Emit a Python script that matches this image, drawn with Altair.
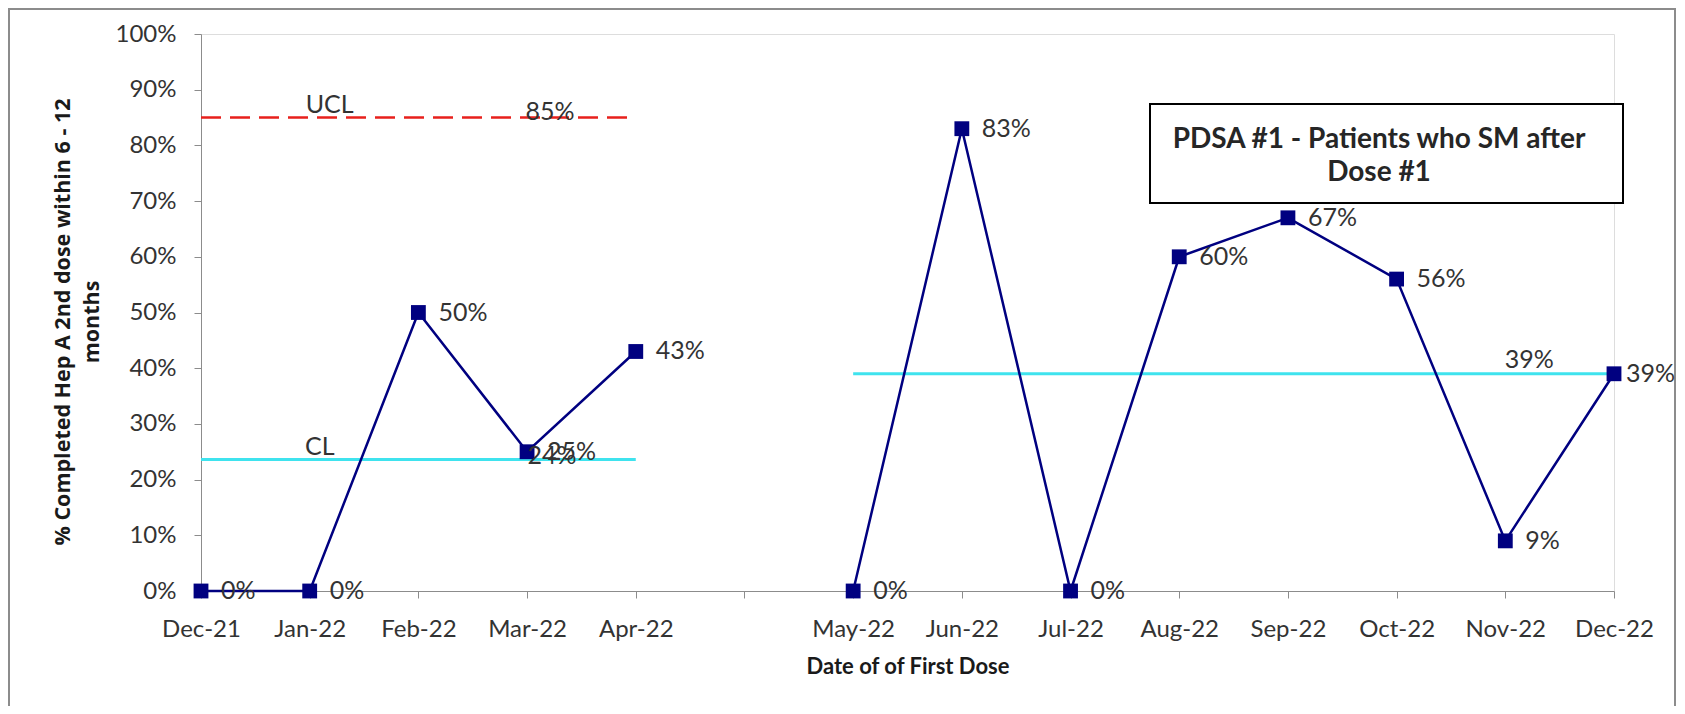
import altair as alt
import pandas as pd

# ---- data ----
months = ["Dec-21", "Jan-22", "Feb-22", "Mar-22", "Apr-22",
          "May-22", "Jun-22", "Jul-22", "Aug-22", "Sep-22", "Oct-22", "Nov-22", "Dec-22"]
values = [0.0, 0.0, 0.50, 0.25, 0.43,
          0.0, 0.83, 0.0, 0.60, 0.67, 0.56, 0.09, 0.39]
phase = [1, 1, 1, 1, 1, 2, 2, 2, 2, 2, 2, 2, 2]
x_domain = months[:5] + ["gap"] + months[5:]

# control limits per phase
lim_start = ["Dec-21", "May-22"]
lim_end = ["Apr-22", "Dec-22"]
cl_values = [0.236, 0.39]
ucl_start = ["Dec-21"]
ucl_end = ["Apr-22"]
ucl_values = [0.85]

box_lines = ["PDSA #1 - Patients who SM after", "Dose #1"]

df = pd.DataFrame({"month": months, "value": values, "phase": phase})
cl_df = pd.DataFrame({"start": lim_start, "end": lim_end, "cl": cl_values})
ucl_df = pd.DataFrame({"start": ucl_start, "end": ucl_end, "ucl": ucl_values})

LABEL_FONT = "Lato"
TEXT_COLOR = "#333333"
FS = 24
PFS = 25
W, H = 1413, 557

xs = alt.Scale(type="point", domain=x_domain, padding=0)
ys = alt.Scale(domain=[0, 1], nice=False)

x_axis = alt.Axis(
    title="Date of of First Dose", labelExpr="datum.value == 'gap' ? '' : datum.value",
    labelAngle=0, labelAlign="center", labelBaseline="top",
    labelFont=LABEL_FONT, labelFontSize=FS, labelColor=TEXT_COLOR,
    titleFont=LABEL_FONT, titleFontSize=22, titleFontWeight="bold", titleColor="#1a1a1a",
    domainColor="#8c8c8c", tickColor="#8c8c8c", tickSize=7, labelPadding=19, titlePadding=15,
    grid=False,
)
y_axis = alt.Axis(
    title=["% Completed Hep A 2nd dose within 6 - 12", "months"], format=".0%",
    values=[i / 10 for i in range(11)],
    labelFont=LABEL_FONT, labelFontSize=FS, labelColor=TEXT_COLOR, labelPadding=18,
    titleFont="Open Sans", titleFontSize=21.5, titleFontWeight="bold", titleColor="#1a1a1a",
    titleLineHeight=29, titlePadding=12, titleY=H / 2 + 9,
    domainColor="#8c8c8c", tickColor="#8c8c8c", tickSize=7, grid=False,
)

base = alt.Chart(df)

line = base.mark_line(color="#000080", strokeWidth=2.5).encode(
    x=alt.X("month:N", scale=xs, axis=x_axis, sort=x_domain),
    y=alt.Y("value:Q", scale=ys, axis=y_axis),
    detail="phase:N",
)
pts = base.mark_square(color="#000080", size=220, opacity=1).encode(
    x=alt.X("month:N", scale=xs, sort=x_domain), y=alt.Y("value:Q", scale=ys)
)
pt_labels = base.mark_text(align="left", baseline="middle", dx=20, font=LABEL_FONT,
                           fontSize=PFS, color=TEXT_COLOR).encode(
    x=alt.X("month:N", scale=xs, sort=x_domain), y=alt.Y("value:Q", scale=ys),
    text=alt.Text("value:Q", format=".0%"),
).transform_filter("datum.month != 'Dec-22'")
pt_label_last = base.mark_text(align="left", baseline="middle", dx=12, font=LABEL_FONT,
                               fontSize=PFS, color=TEXT_COLOR).encode(
    x=alt.X("month:N", scale=xs, sort=x_domain), y=alt.Y("value:Q", scale=ys),
    text=alt.Text("value:Q", format=".0%"),
).transform_filter("datum.month == 'Dec-22'")

ucl_rule = alt.Chart(ucl_df).mark_rule(color="#e8201c", strokeWidth=2.5, strokeDash=[20, 9]).encode(
    x=alt.X("start:N", scale=xs), x2="end:N", y=alt.Y("ucl:Q", scale=ys)
)
cl_rule = alt.Chart(cl_df).mark_rule(color="#3fe3ee", strokeWidth=3).encode(
    x=alt.X("start:N", scale=xs), x2="end:N", y=alt.Y("cl:Q", scale=ys)
)

ucl_name = alt.Chart(ucl_df).mark_text(align="center", baseline="alphabetic", dx=20, dy=-5,
                                      font=LABEL_FONT, fontSize=PFS, color=TEXT_COLOR).encode(
    x=alt.X("label_x:N", scale=xs), y=alt.Y("ucl:Q", scale=ys), text=alt.value("UCL")
).transform_calculate(label_x="'Jan-22'")
ucl_val = alt.Chart(ucl_df).mark_text(align="center", baseline="alphabetic", dx=23, dy=2,
                                     font=LABEL_FONT, fontSize=PFS, color=TEXT_COLOR).encode(
    x=alt.X("label_x:N", scale=xs), y=alt.Y("ucl:Q", scale=ys), text=alt.Text("ucl:Q", format=".0%")
).transform_calculate(label_x="'Mar-22'")

cl1 = cl_df.iloc[[0]]
cl2 = cl_df.iloc[[1]]
cl_name = alt.Chart(cl1).mark_text(align="center", baseline="alphabetic", dx=10, dy=-5,
                                  font=LABEL_FONT, fontSize=PFS, color=TEXT_COLOR).encode(
    x=alt.X("label_x:N", scale=xs), y=alt.Y("cl:Q", scale=ys), text=alt.value("CL")
).transform_calculate(label_x="'Jan-22'")
cl_val1 = alt.Chart(cl1).mark_text(align="center", baseline="alphabetic", dx=25, dy=4,
                                  font=LABEL_FONT, fontSize=PFS, color=TEXT_COLOR).encode(
    x=alt.X("label_x:N", scale=xs), y=alt.Y("cl:Q", scale=ys), text=alt.Text("cl:Q", format=".0%")
).transform_calculate(label_x="'Mar-22'")
cl_val2 = alt.Chart(cl2).mark_text(align="center", baseline="alphabetic", dx=24, dy=-6,
                                  font=LABEL_FONT, fontSize=PFS, color=TEXT_COLOR).encode(
    x=alt.X("label_x:N", scale=xs), y=alt.Y("cl:Q", scale=ys), text=alt.Text("cl:Q", format=".0%")
).transform_calculate(label_x="'Nov-22'")

# annotation box
box = alt.Chart(pd.DataFrame({"t": [0]})).mark_rect(
    fill="white", stroke="black", strokeWidth=2
).encode(x=alt.value(949), x2=alt.value(1422), y=alt.value(70), y2=alt.value(169))
box_text = alt.Chart(pd.DataFrame({"t": [box_lines]})).mark_text(
    align="center", baseline="middle", font=LABEL_FONT, fontSize=28, fontWeight="bold",
    color="#262626", lineHeight=33
).encode(x=alt.value(1178), y=alt.value(106), text="t")

# outer frame
frame = alt.Chart(pd.DataFrame({"t": [0]})).mark_rect(
    fill=None, stroke="#8c8c8c", strokeWidth=2, clip=False
).encode(x=alt.value(-192), x2=alt.value(1474), y=alt.value(-25), y2=alt.value(720))

chart = alt.layer(
    frame, ucl_rule, cl_rule, line, pts, pt_labels, pt_label_last,
    ucl_name, ucl_val, cl_name, cl_val1, cl_val2, box, box_text,
).properties(
    width=W, height=H,
    autosize=alt.AutoSizeParams(type="none"),
    padding={"left": 193, "top": 26, "right": 63, "bottom": 115},
).configure_view(stroke=None).configure(background="white")

chart.save("out.html", embed_options={"renderer": "svg", "actions": False})
